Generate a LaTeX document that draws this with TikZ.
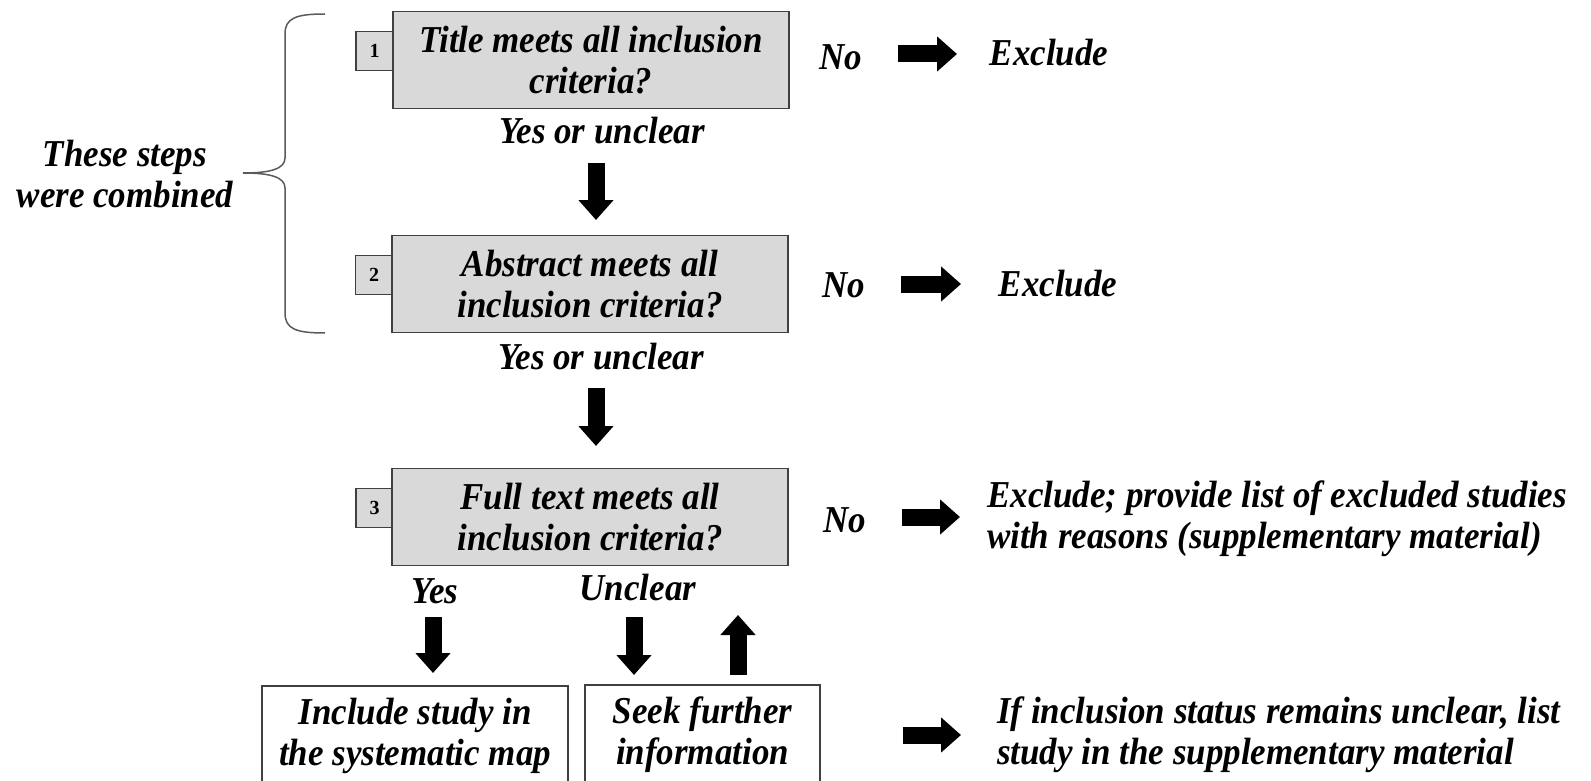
\documentclass[tikz,border=0pt]{standalone}
\usepackage{fontspec}
\setmainfont{Liberation Serif}
\newfontfamily\narrowserif[FakeStretch=0.92]{Liberation Serif}
\usetikzlibrary{arrows.meta,calc}
\definecolor{boxgray}{HTML}{D9D9D9}
\definecolor{edgegray}{HTML}{404040}
\definecolor{bracegray}{HTML}{5A5A5A}
\begin{document}
\begin{tikzpicture}[x=1pt,y=-1pt,
  txt/.style={font=\narrowserif\bfseries\itshape\fontsize{38}{41}\selectfont, inner sep=0pt, align=center},
  qbox/.style={txt, draw=edgegray, line width=1.5pt, fill=boxgray,
    minimum width=396pt, minimum height=97pt},
  numbox/.style={draw=edgegray, line width=1.3pt, fill=boxgray,
    minimum width=37pt, minimum height=39pt, inner sep=0pt,
    font=\bfseries\fontsize{20}{20}\selectfont},
  outbox/.style={txt, draw=edgegray, line width=1.5pt, fill=white},
  blockarrow/.style={line width=17pt, -{Triangle[width=34pt,length=20pt]}},
]
\useasboundingbox (0,0) rectangle (1591,781);
\clip (0,0) rectangle (1591,781);

% brace grouping the first two steps
\draw[bracegray, line width=1.5pt]
  (325,14) .. controls (296,14) and (285,18) .. (285,34) -- (285,158)
  .. controls (285,169) and (270,173) .. (243,173)
  .. controls (270,173) and (285,177) .. (285,188) -- (285,313)
  .. controls (285,329) and (296,333) .. (325,333);
\node[txt] (steps) at (125,174) {These steps\\were combined};

% screening steps
\node[numbox] (n1) at (374.5,51) {1};
\node[qbox] (box1) at (591,60) {Title meets all inclusion\\criteria?};
\node[numbox] (n2) at (374,275) {2};
\node[qbox] (box2) at (590,284) {Abstract meets all\\inclusion criteria?};
\node[numbox] (n3) at (374.5,508) {3};
\node[qbox] (box3) at (590,517) {Full text meets all\\inclusion criteria?};

% outcome labels
\node[txt] (yes1) at (602,131) {Yes or unclear};
\node[txt] (yes2) at (601,357) {Yes or unclear};
\node[txt] (yes3) at (435,591) {Yes};
\node[txt] (unc) at (638,588) {Unclear};
\node[txt] (no1) at (841,57) {No};
\node[txt] (no2) at (844,285) {No};
\node[txt] (no3) at (845,520) {No};

% results
\node[txt] (exc1) at (1049,53) {Exclude};
\node[txt] (exc2) at (1058,284) {Exclude};
\node[txt, anchor=west, align=left] (exc3) at (987,519)
  {Exclude; provide list of excluded studies\\with reasons (supplementary material)};
\node[txt, anchor=west, align=left] (unclr) at (997,735)
  {If inclusion status remains unclear, list\\study in the supplementary material};
\node[outbox, minimum width=306pt, minimum height=99pt] (incl) at (415,735.5)
  {Include study in\\the systematic map};
\node[outbox, minimum width=235pt, minimum height=100pt] (seek) at (702.5,735)
  {Seek further\\information};

% arrow end points
\coordinate (d1s) at (596,163); \coordinate (d1e) at (596,220);
\coordinate (d2s) at (596,388); \coordinate (d2e) at (596,446);
\coordinate (h1s) at (898,54);  \coordinate (h1e) at (957,54);
\coordinate (h2s) at (901,284); \coordinate (h2e) at (961,284);
\coordinate (h3s) at (902,517); \coordinate (h3e) at (960,517);
\coordinate (h4s) at (903,735); \coordinate (h4e) at (961,735);
\coordinate (d3s) at (433,617); \coordinate (d3e) at (433,673);
\coordinate (d4s) at (634,617); \coordinate (d4e) at (634,675);
\coordinate (u1s) at (738,675); \coordinate (u1e) at (738,615);

\foreach \a in {d1,d2,h1,h2,h3,h4,d3,d4,u1}
  \draw[blockarrow] (\a s) -- (\a e);
\end{tikzpicture}
\end{document}
